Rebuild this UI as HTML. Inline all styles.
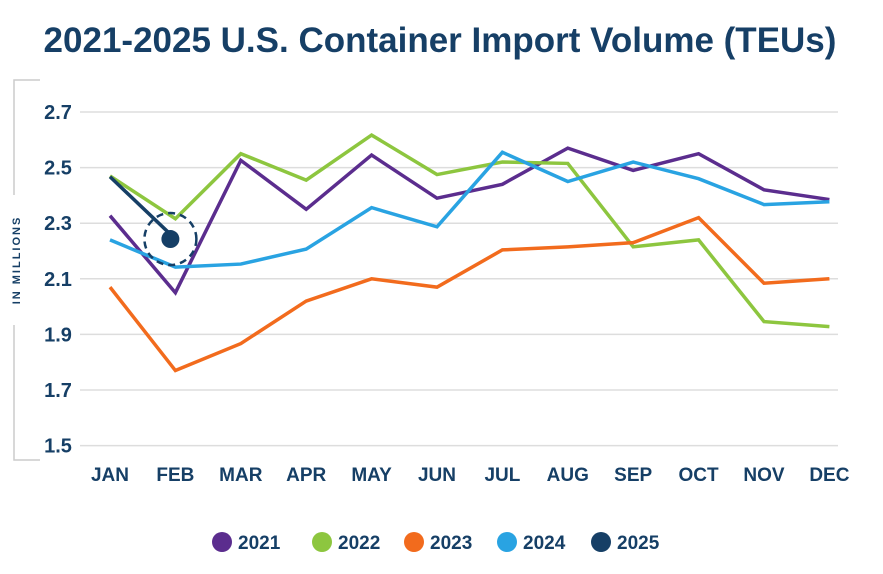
<!DOCTYPE html>
<html><head><meta charset="utf-8"><style>
body{margin:0;background:#fff;width:883px;height:569px;overflow:hidden;font-family:"Liberation Sans",sans-serif}
</style></head><body>
<svg width="883" height="569">
<text x="440" y="52" text-anchor="middle" font-size="35" font-weight="bold" fill="#163f66">2021-2025 U.S. Container Import Volume (TEUs)</text>
<g stroke="#ccc" stroke-width="1.5" fill="none">
<path d="M40 80 H14 V195"/><path d="M14 325 V460 H40"/>
</g>
<text transform="translate(20,260) rotate(-90)" text-anchor="middle" font-size="11" font-weight="bold" letter-spacing="2" fill="#163f66">IN MILLIONS</text>
<g id="grid"></g><g id="lines"></g><g id="xl"></g>
<g font-size="19" font-weight="bold" fill="#163f66" id="legend"></g>
</svg>
<script>
const months=["JAN","FEB","MAR","APR","MAY","JUN","JUL","AUG","SEP","OCT","NOV","DEC"];
const yTicks=[2.7,2.5,2.3,2.1,1.9,1.7,1.5];
const years=["2021","2022","2023","2024","2025"];
const colors=["#5b2d8e","#8dc63f","#f26b1d","#29a3e2","#163f66"];
const s2021=[2.327,2.05,2.526,2.35,2.545,2.39,2.44,2.57,2.49,2.55,2.42,2.385];
const s2022=[2.47,2.316,2.55,2.455,2.617,2.475,2.52,2.515,2.215,2.24,1.946,1.928];
const s2023=[2.07,1.77,1.867,2.02,2.1,2.07,2.204,2.215,2.23,2.32,2.084,2.1];
const s2024=[2.24,2.142,2.153,2.207,2.356,2.287,2.555,2.45,2.52,2.46,2.367,2.377];
const s2025=[2.467,2.243];
const series=[s2021,s2022,s2023,s2024,s2025];
const NS="http://www.w3.org/2000/svg";
const X=i=>110+i*65.4;
const Y=v=>112+(2.7-v)*278;
function mk(t,a,p){const e=document.createElementNS(NS,t);for(const k in a)e.setAttribute(k,a[k]);p.appendChild(e);return e;}
const grid=document.getElementById('grid');
yTicks.forEach(v=>{
 const l=mk('line',{x1:80,x2:838,y1:Y(v),y2:Y(v),stroke:'#ddd','stroke-width':1.5},grid);
 
 
 const t=mk('text',{x:58,y:Y(v)+7,'text-anchor':'middle','font-size':20,'font-weight':'bold',fill:'#163f66'},grid);
 t.textContent=v.toFixed(1);
 
 
});
const xl=document.getElementById('xl');
months.forEach((m,i)=>{
 const t=mk('text',{x:X(i),y:481,'text-anchor':'middle','font-size':19,'font-weight':'bold',fill:'#163f66'},xl);
 t.textContent=m;
 
 
});
const lines=document.getElementById('lines');
series.forEach((s,k)=>{
 const p=mk('polyline',{points:s.map((v,i)=>X(i)+','+Y(v)).join(' '),fill:'none',stroke:colors[k],'stroke-width':3.5,'stroke-linejoin':'miter'},lines);
 
 
});
const li=s2025.length-1;
const c=mk('circle',{cx:X(li)-5,cy:Y(s2025[li]),r:9,fill:'#163f66'},lines);


const c2=mk('circle',{cx:X(li)-5,cy:Y(s2025[li]),r:26,fill:'none',stroke:'#163f66','stroke-width':2.5,'stroke-dasharray':'7 5'},lines);


const lg=document.getElementById('legend');
const lx=[222,322,414,507,601];
years.forEach((y,k)=>{
 const d=mk('circle',{cx:lx[k],cy:542,r:10,fill:colors[k]},lg);
 
 
 const t=mk('text',{x:lx[k]+16,y:549},lg);
 t.textContent=y;
 
 
});
</script>
</body></html>
